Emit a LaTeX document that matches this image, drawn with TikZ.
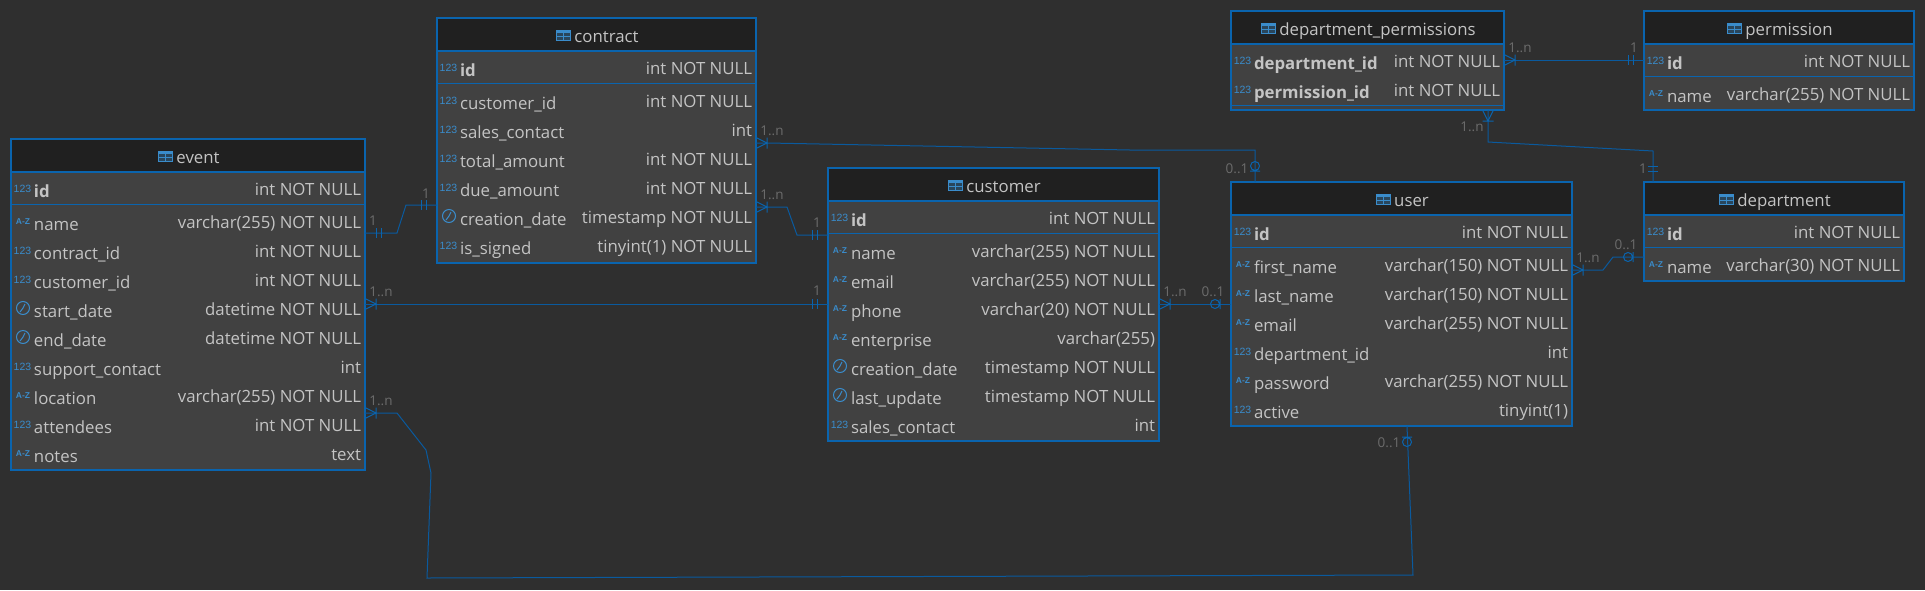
\documentclass[tikz,border=0pt]{standalone}
\usepackage{fontspec}
\setmainfont{Open Sans}
\definecolor{bgc}{HTML}{2F2F2F}
\definecolor{bodyc}{HTML}{414141}
\definecolor{headc}{HTML}{202020}
\definecolor{edgec}{HTML}{0A64AE}
\definecolor{linkc}{HTML}{0A5A9E}
\definecolor{iconc}{HTML}{3A8CCB}
\definecolor{textc}{HTML}{C4C4C4}
\definecolor{cardc}{HTML}{6C6C6C}
\newfontfamily\iconfont{Liberation Sans}
\tikzset{
  x=1pt,y=-1pt,
  tablebody/.style={fill=bodyc,draw=none,inner sep=0,outer sep=0,anchor=north west},
  rowtext/.style={text=textc,inner sep=0,outer sep=0,font=\fontsize{16.8}{20}\selectfont},
  lefttext/.style={rowtext,anchor=base west},
  righttext/.style={rowtext,anchor=base east},
  titletext/.style={rowtext,anchor=base},
  numicon/.style={text=iconc,inner sep=0,anchor=base,font=\iconfont\fontsize{10.5}{12}\selectfont},
  stricon/.style={text=iconc,inner sep=0,anchor=base,font=\iconfont\bfseries\fontsize{8.5}{10}\selectfont},
  card/.style={text=cardc,inner sep=0,outer sep=0,anchor=base,font=\fontsize{13.5}{16}\selectfont},
  link/.style={draw=linkc,line width=1pt},
  linksym/.style={draw=edgec,line width=1pt},
}
% table frame: name, x1, top, x2, bottom, title
\newcommand{\dbtable}[6]{%
  \def\tx{#2}\def\ty{#3}\def\txr{#4}\def\tname{#1}%
  \pgfmathsetmacro{\tw}{#4-#2}\pgfmathsetmacro{\th}{#5-#3}\pgfmathsetmacro{\tc}{(#2+#4)/2+10}%
  \node[tablebody,minimum width=\tw pt,minimum height=\th pt] (#1) at (#2,#3) {};
  \fill[headc] (#2,#3) rectangle (#4,#3+33);
  \draw[edgec,line width=1.2pt] (#2,#3+33) -- (#4,#3+33);
  \node[titletext] (#1-title) at (\tc,#3+24.5) {#6};
  \begin{scope}[shift={(#1-title.west |- 0,#3)}]
    \fill[iconc!35!headc] (-18,12) rectangle (-4,22);
    \fill[iconc] (-18,12) rectangle (-4,15);
    \draw[iconc,line width=1pt] (-18,12) rectangle (-4,22) (-11,15) -- (-11,22) (-18,18.5) -- (-4,18.5);
  \end{scope}
}
\newcommand{\tableedge}[1]{\draw[edgec,line width=1.8pt] (#1.south west) rectangle (#1.north east);}
\newcommand{\rowline}[1]{\draw[edgec,line width=1pt] (\tx,\ty+#1) -- (\txr,\ty+#1);}
% column row: id, icon macro, baseline offset, left, right
\newcommand{\colrow}[5]{%
  #2{\tname-#1-icon}{\ty+#3}%
  \node[lefttext] (\tname-#1) at (\tx+23,\ty+#3+2.7) {#4};
  \node[righttext] (\tname-#1-type) at (\txr-4,\ty+#3+0.7) {#5};
}
\newcommand{\icnum}[2]{\node[numicon] (#1) at (\tx+11.5,#2-2) {123};}
\newcommand{\icstr}[2]{\node[stricon] (#1) at (\tx+12,#2-3) {A-Z};}
\newcommand{\icclk}[2]{%
  \node[circle,draw=iconc,line width=1pt,minimum size=13pt,inner sep=0] (#1) at (\tx+12,#2-6.5) {};
  \draw[iconc,line width=1pt] (#1.center) ++(2,-4) -- (#1.center) -- ++(-3,4);
}
% relationship ends, drawn from the table edge outward
\newcommand{\crowend}[2]{\begin{scope}[shift={#1},rotate=#2]\draw[linksym] (0,5.5) -- (11,0) -- (0,-5.5) (11,-5.5) -- (11,5.5);\end{scope}}
\newcommand{\oneend}[2]{\begin{scope}[shift={#1},rotate=#2]\draw[linksym] (11,-5) -- (11,5) (16,-5) -- (16,5);\end{scope}}
\newcommand{\zeroend}[2]{\begin{scope}[shift={#1},rotate=#2]\draw[linksym] (11,-5) -- (11,5) (16,0) circle[radius=4.5];\end{scope}}
\begin{document}
\begin{tikzpicture}
\useasboundingbox (0,0) rectangle (1925,590);
\fill[bgc] (0,0) rectangle (1925,590);

\dbtable{event}{11}{139}{365}{470}{event}
\colrow{id}{\icnum}{55.5}{\bfseries id}{int NOT NULL}
\rowline{65}
\colrow{name}{\icstr}{88.5}{name}{varchar(255) NOT NULL}
\colrow{contract_id}{\icnum}{117.5}{contract\_id}{int NOT NULL}
\colrow{customer_id}{\icnum}{146.5}{customer\_id}{int NOT NULL}
\colrow{start_date}{\icclk}{175.5}{start\_date}{datetime NOT NULL}
\colrow{end_date}{\icclk}{204.5}{end\_date}{datetime NOT NULL}
\colrow{support_contact}{\icnum}{233.5}{support\_contact}{int}
\colrow{location}{\icstr}{262.5}{location}{varchar(255) NOT NULL}
\colrow{attendees}{\icnum}{291.5}{attendees}{int NOT NULL}
\colrow{notes}{\icstr}{320.5}{notes}{text}
\tableedge{event}

\dbtable{contract}{437}{18}{756}{263}{contract}
\colrow{id}{\icnum}{55.5}{\bfseries id}{int NOT NULL}
\rowline{65}
\colrow{customer_id}{\icnum}{88.5}{customer\_id}{int NOT NULL}
\colrow{sales_contact}{\icnum}{117.5}{sales\_contact}{int}
\colrow{total_amount}{\icnum}{146.5}{total\_amount}{int NOT NULL}
\colrow{due_amount}{\icnum}{175.5}{due\_amount}{int NOT NULL}
\colrow{creation_date}{\icclk}{204.5}{creation\_date}{timestamp NOT NULL}
\colrow{is_signed}{\icnum}{233.5}{is\_signed}{tinyint(1) NOT NULL}
\tableedge{contract}

\dbtable{customer}{828}{168}{1159}{441}{customer}
\colrow{id}{\icnum}{55.5}{\bfseries id}{int NOT NULL}
\rowline{65}
\colrow{name}{\icstr}{88.5}{name}{varchar(255) NOT NULL}
\colrow{email}{\icstr}{117.5}{email}{varchar(255) NOT NULL}
\colrow{phone}{\icstr}{146.5}{phone}{varchar(20) NOT NULL}
\colrow{enterprise}{\icstr}{175.5}{enterprise}{varchar(255)}
\colrow{creation_date}{\icclk}{204.5}{creation\_date}{timestamp NOT NULL}
\colrow{last_update}{\icclk}{233.5}{last\_update}{timestamp NOT NULL}
\colrow{sales_contact}{\icnum}{262.5}{sales\_contact}{int}
\tableedge{customer}

\dbtable{user}{1231}{182}{1572}{426}{user}
\colrow{id}{\icnum}{55.5}{\bfseries id}{int NOT NULL}
\rowline{65}
\colrow{first_name}{\icstr}{88.5}{first\_name}{varchar(150) NOT NULL}
\colrow{last_name}{\icstr}{117.5}{last\_name}{varchar(150) NOT NULL}
\colrow{email}{\icstr}{146.5}{email}{varchar(255) NOT NULL}
\colrow{department_id}{\icnum}{175.5}{department\_id}{int}
\colrow{password}{\icstr}{204.5}{password}{varchar(255) NOT NULL}
\colrow{active}{\icnum}{233.5}{active}{tinyint(1)}
\tableedge{user}

\dbtable{deptperm}{1231}{11}{1504}{110}{department\_permissions}
\colrow{department_id}{\icnum}{55.5}{\bfseries department\_id}{int NOT NULL}
\colrow{permission_id}{\icnum}{84.5}{\bfseries permission\_id}{int NOT NULL}
\rowline{94}
\tableedge{deptperm}

\dbtable{permission}{1644}{11}{1914}{110}{permission}
\colrow{id}{\icnum}{55.5}{\bfseries id}{int NOT NULL}
\rowline{65}
\colrow{name}{\icstr}{88.5}{name}{varchar(255) NOT NULL}
\tableedge{permission}

\dbtable{department}{1644}{182}{1904}{281}{department}
\colrow{id}{\icnum}{55.5}{\bfseries id}{int NOT NULL}
\rowline{65}
\colrow{name}{\icstr}{88.5}{name}{varchar(30) NOT NULL}
\tableedge{department}

% event -- contract
\draw[link] (event.east |- 0,233) -- (397,233) -- (406,205) -- (contract.west |- 0,205);
\oneend{(event.east |- 0,233)}{0}
\oneend{(contract.west |- 0,205)}{180}
\node[card] (c1) at (373,225) {1};
\node[card] (c2) at (426,198) {1};
% event -- customer
\draw[link] (event.east |- 0,304) -- (customer.west |- 0,304);
\crowend{(event.east |- 0,304)}{0}
\oneend{(customer.west |- 0,304)}{180}
\node[card] (c3) at (381,296) {1..n};
\node[card] (c4) at (817,295) {1};
% event -- user
\draw[link] (event.east |- 0,413) -- (397,413) -- (426,450) -- (431,473) -- (427,578) -- (1413,575) -- (user.south -| 1407,0);
\crowend{(event.east |- 0,413)}{0}
\zeroend{(user.south -| 1407,0)}{-90}
\node[card] (c5) at (381,405) {1..n};
\node[card] (c6) at (1389,447) {0..1};
% contract -- user
\draw[link] (contract.east |- 0,143) -- (768,143) -- (1130,150) -- (1255,150) -- (user.north -| 1255,0);
\crowend{(contract.east |- 0,143)}{0}
\zeroend{(user.north -| 1255,0)}{90}
\node[card] (c7) at (772,135) {1..n};
\node[card] (c8) at (1237,173) {0..1};
% contract -- customer
\draw[link] (contract.east |- 0,207) -- (787,207) -- (797,235) -- (customer.west |- 0,235);
\crowend{(contract.east |- 0,207)}{0}
\oneend{(customer.west |- 0,235)}{180}
\node[card] (c9) at (772,199) {1..n};
\node[card] (c10) at (817,227) {1};
% customer -- user
\draw[link] (customer.east |- 0,304) -- (user.west |- 0,304);
\crowend{(customer.east |- 0,304)}{0}
\zeroend{(user.west |- 0,304)}{180}
\node[card] (c11) at (1175,296) {1..n};
\node[card] (c12) at (1213,296) {0..1};
% user -- department
\draw[link] (user.east |- 0,270) -- (1603,270) -- (1613,257) -- (department.west |- 0,257);
\crowend{(user.east |- 0,270)}{0}
\zeroend{(department.west |- 0,257)}{180}
\node[card] (c13) at (1588,262) {1..n};
\node[card] (c14) at (1626,249) {0..1};
% department_permissions -- permission
\draw[link] (deptperm.east |- 0,60) -- (permission.west |- 0,60);
\crowend{(deptperm.east |- 0,60)}{0}
\oneend{(permission.west |- 0,60)}{180}
\node[card] (c15) at (1520,52) {1..n};
\node[card] (c16) at (1634,52) {1};
% department_permissions -- department
\draw[link] (deptperm.south -| 1488,0) -- (1488,142) -- (1653,151) -- (department.north -| 1653,0);
\crowend{(deptperm.south -| 1488,0)}{-90}
\oneend{(department.north -| 1653,0)}{90}
\node[card] (c17) at (1472,131) {1..n};
\node[card] (c18) at (1643,173) {1};
\end{tikzpicture}
\end{document}
